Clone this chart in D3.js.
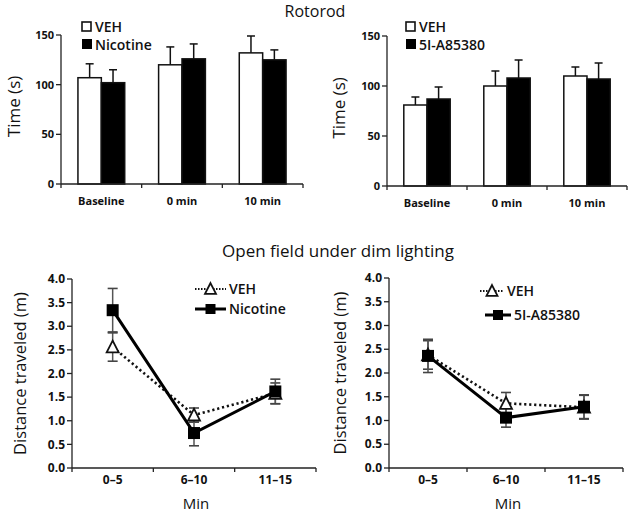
<!DOCTYPE html>
<html><head><meta charset="utf-8">
<script src="https://cdn.jsdelivr.net/npm/d3@7"></script>
<style>
body{margin:0;background:#fff;}
text{font-family:"Open Sans",sans-serif;fill:#111;}
</style></head>
<body><svg id="c" width="630" height="513"></svg>
<script>
// ---- data ----
const rotCats = ["Baseline", "0 min", "10 min"];
const rotTicks = [0, 50, 100, 150];
const rotVehL = [107, 120, 132];
const rotVehLErr = [14, 18, 17];
const rotNic = [102, 126, 125];
const rotNicErr = [13, 15, 10];
const rotVehR = [81, 100, 110];
const rotVehRErr = [8, 15, 9];
const rotSI = [87, 108, 107];
const rotSIErr = [12, 18, 16];

const ofCats = ["0\u20135", "6\u201310", "11\u201315"];
const ofTicks = [0, 0.5, 1, 1.5, 2, 2.5, 3, 3.5, 4];
const ofVehL = [2.56, 1.12, 1.58];
const ofVehLErr = [0.3, 0.15, 0.22];
const ofNic = [3.34, 0.74, 1.62];
const ofNicErr = [0.46, 0.27, 0.26];
const ofVehR = [2.38, 1.36, 1.28];
const ofVehRErr = [0.3, 0.23, 0.25];
const ofSI = [2.36, 1.06, 1.29];
const ofSIErr = [0.35, 0.2, 0.25];

const svg = d3.select("#c");

svg.append("text").attr("x", 315).attr("y", 17).attr("text-anchor", "middle")
  .style("font-size", "16px").text("Rotorod");
svg.append("text").attr("x", 338).attr("y", 257).attr("text-anchor", "middle")
  .style("font-size", "17px").text("Open field under dim lighting");

function axes(g, x, y, ticks, fmt, x0, x1, yBot, yTop, tickFont, tickDy) {
  const ya = g.append("g");
  ya.append("line").attr("x1", x0).attr("x2", x0).attr("y1", yTop).attr("y2", yBot + 4)
    .attr("stroke", "#222").attr("stroke-width", 1.3);
  ticks.forEach(t => {
    ya.append("line").attr("x1", x0 - 5).attr("x2", x0).attr("y1", y(t)).attr("y2", y(t))
      .attr("stroke", "#222").attr("stroke-width", 1.3);
    ya.append("text").attr("x", x0 - 7).attr("y", y(t)).attr("dy", "0.35em")
      .attr("text-anchor", "end").style("font-size", tickFont).style("font-weight", "bold")
      .text(fmt(t));
  });
  ya.append("line").attr("x1", x0).attr("x2", x1).attr("y1", yBot).attr("y2", yBot)
    .attr("stroke", "#222").attr("stroke-width", 1.3);
  x.domain().forEach((c, i) => {
    const bx = x(c) + x.bandwidth();
    ya.append("line").attr("x1", bx).attr("x2", bx).attr("y1", yBot).attr("y2", yBot + 4)
      .attr("stroke", "#222").attr("stroke-width", 1.3);
    ya.append("text").attr("x", x(c) + x.bandwidth() / 2).attr("y", yBot + tickDy)
      .attr("text-anchor", "middle").style("font-size", tickFont).style("font-weight", "bold")
      .text(c);
  });
}

function barPanel(x0, x1, yTop, yBot, vals1, err1, vals2, err2, name2, legX, titleX) {
  const g = svg.append("g");
  const x = d3.scaleBand().domain(rotCats).range([x0, x1]);
  const y = d3.scaleLinear().domain([0, 150]).range([yBot, yTop]);
  const bw = x.bandwidth() * 0.29;
  const series = [{v: vals1, e: err1, fill: "#fff", off: -bw}, {v: vals2, e: err2, fill: "#000", off: 0}];
  series.forEach(s => {
    rotCats.forEach((c, i) => {
      const cx = x(c) + x.bandwidth() / 2 + s.off;
      g.append("line").attr("x1", cx + bw / 2).attr("x2", cx + bw / 2)
        .attr("y1", y(s.v[i])).attr("y2", y(s.v[i] + s.e[i])).attr("stroke", "#111").attr("stroke-width", 1.5);
      g.append("line").attr("x1", cx + bw / 2 - 4).attr("x2", cx + bw / 2 + 4)
        .attr("y1", y(s.v[i] + s.e[i])).attr("y2", y(s.v[i] + s.e[i])).attr("stroke", "#111").attr("stroke-width", 1.5);
      g.append("rect").attr("x", cx).attr("y", y(s.v[i])).attr("width", bw)
        .attr("height", y(0) - y(s.v[i])).attr("fill", s.fill).attr("stroke", "#111").attr("stroke-width", 1.5);
    });
  });
  axes(g, x, y, rotTicks, d3.format("d"), x0, x1, yBot, yTop, "11px", 21);
  g.append("text").attr("transform", `translate(${titleX},${(yTop + yBot) / 2 - 3}) rotate(-90)`)
    .attr("text-anchor", "middle").attr("dy", "0.35em").style("font-size", "17px").text("Time (s)");
  const lg = g.append("g");
  lg.append("rect").attr("x", legX).attr("y", 22).attr("width", 9).attr("height", 9)
    .attr("fill", "#fff").attr("stroke", "#111").attr("stroke-width", 1.6);
  lg.append("text").attr("x", legX + 13).attr("y", 32).style("font-size", "14px").style("font-weight", "600").text("VEH");
  lg.append("rect").attr("x", legX).attr("y", 39).attr("width", 10).attr("height", 10).attr("fill", "#000");
  lg.append("text").attr("x", legX + 13).attr("y", 50).style("font-size", "14px").style("font-weight", "600").text(name2);
}

barPanel(61, 303, 35, 184, rotVehL, rotVehLErr, rotNic, rotNicErr, "Nicotine", 82, 14);
barPanel(387, 627, 36, 186, rotVehR, rotVehRErr, rotSI, rotSIErr, "5I-A85380", 406, 339);

function tri(g, cx, cy, s) {
  const h = s * 0.9;
  g.append("path").attr("d", `M${cx},${cy - h / 2 - 1} L${cx + s / 2},${cy + h / 2} L${cx - s / 2},${cy + h / 2} Z`)
    .attr("fill", "#fff").attr("stroke", "#111").attr("stroke-width", 1.8);
}
function sq(g, cx, cy, s) {
  g.append("rect").attr("x", cx - s / 2).attr("y", cy - s / 2).attr("width", s).attr("height", s).attr("fill", "#000");
}

function linePanel(x0, x1, yTop, yBot, veh, vehE, drug, drugE, name2, leg, titleX) {
  const g = svg.append("g");
  const x = d3.scaleBand().domain(ofCats).range([x0, x1]);
  const y = d3.scaleLinear().domain([0, 4]).range([yBot, yTop]);
  const px = c => x(c) + x.bandwidth() / 2;
  axes(g, x, y, ofTicks, d3.format(".1f"), x0, x1, yBot, yTop, "12px", 16);
  const line = d3.line().x((d, i) => px(ofCats[i])).y(d => y(d));
  [[veh, vehE], [drug, drugE]].forEach(([v, e]) => {
    ofCats.forEach((c, i) => {
      const cx = px(c);
      g.append("line").attr("x1", cx).attr("x2", cx).attr("y1", y(v[i] - e[i])).attr("y2", y(v[i] + e[i]))
        .attr("stroke", "#555").attr("stroke-width", 1.5);
      [v[i] - e[i], v[i] + e[i]].forEach(t => g.append("line").attr("x1", cx - 5).attr("x2", cx + 5)
        .attr("y1", y(t)).attr("y2", y(t)).attr("stroke", "#444").attr("stroke-width", 1.6));
    });
  });
  g.append("path").datum(veh).attr("d", line).attr("fill", "none").attr("stroke", "#111")
    .attr("stroke-width", 2.6).attr("stroke-dasharray", "2.2,2.8");
  ofCats.forEach((c, i) => tri(g, px(c), y(veh[i]), 12));
  g.append("path").datum(drug).attr("d", line).attr("fill", "none").attr("stroke", "#000").attr("stroke-width", 3);
  ofCats.forEach((c, i) => sq(g, px(c), y(drug[i]), 12));
  g.append("text").attr("transform", `translate(${titleX},${(yTop + yBot) / 2}) rotate(-90)`)
    .attr("text-anchor", "middle").attr("dy", "0.35em").style("font-size", "16.5px").text("Distance traveled  (m)");
  g.append("text").attr("x", (x0 + x1) / 2 + 2).attr("y", 509)
    .attr("text-anchor", "middle").style("font-size", "15px").text("Min");
  const lg = g.append("g");
  lg.append("line").attr("x1", leg.vx0).attr("x2", leg.vx1).attr("y1", leg.vy).attr("y2", leg.vy)
    .attr("stroke", "#111").attr("stroke-width", 2.2).attr("stroke-dasharray", "1.5,1.5");
  tri(lg, (leg.vx0 + leg.vx1) / 2, leg.vy, 11);
  lg.append("text").attr("x", leg.vx1 + 3).attr("y", leg.vy).attr("dy", "0.35em")
    .style("font-size", "14px").style("font-weight", "600").text("VEH");
  lg.append("line").attr("x1", leg.dx0).attr("x2", leg.dx1).attr("y1", leg.dy).attr("y2", leg.dy)
    .attr("stroke", "#000").attr("stroke-width", 3);
  sq(lg, (leg.dx0 + leg.dx1) / 2, leg.dy, 10);
  lg.append("text").attr("x", leg.dx1 + 3).attr("y", leg.dy).attr("dy", "0.35em")
    .style("font-size", "14px").style("font-weight", "600").text(name2);
}

linePanel(72, 316, 279, 468, ofVehL, ofVehLErr, ofNic, ofNicErr, "Nicotine",
  {vx0: 195, vx1: 226, vy: 289, dx0: 195, dx1: 226, dy: 309}, 20);
linePanel(389, 623, 278, 468, ofVehR, ofVehRErr, ofSI, ofSIErr, "5I-A85380",
  {vx0: 480, vx1: 504, vy: 291, dx0: 485, dx1: 511, dy: 315}, 340);
</script></body></html>
